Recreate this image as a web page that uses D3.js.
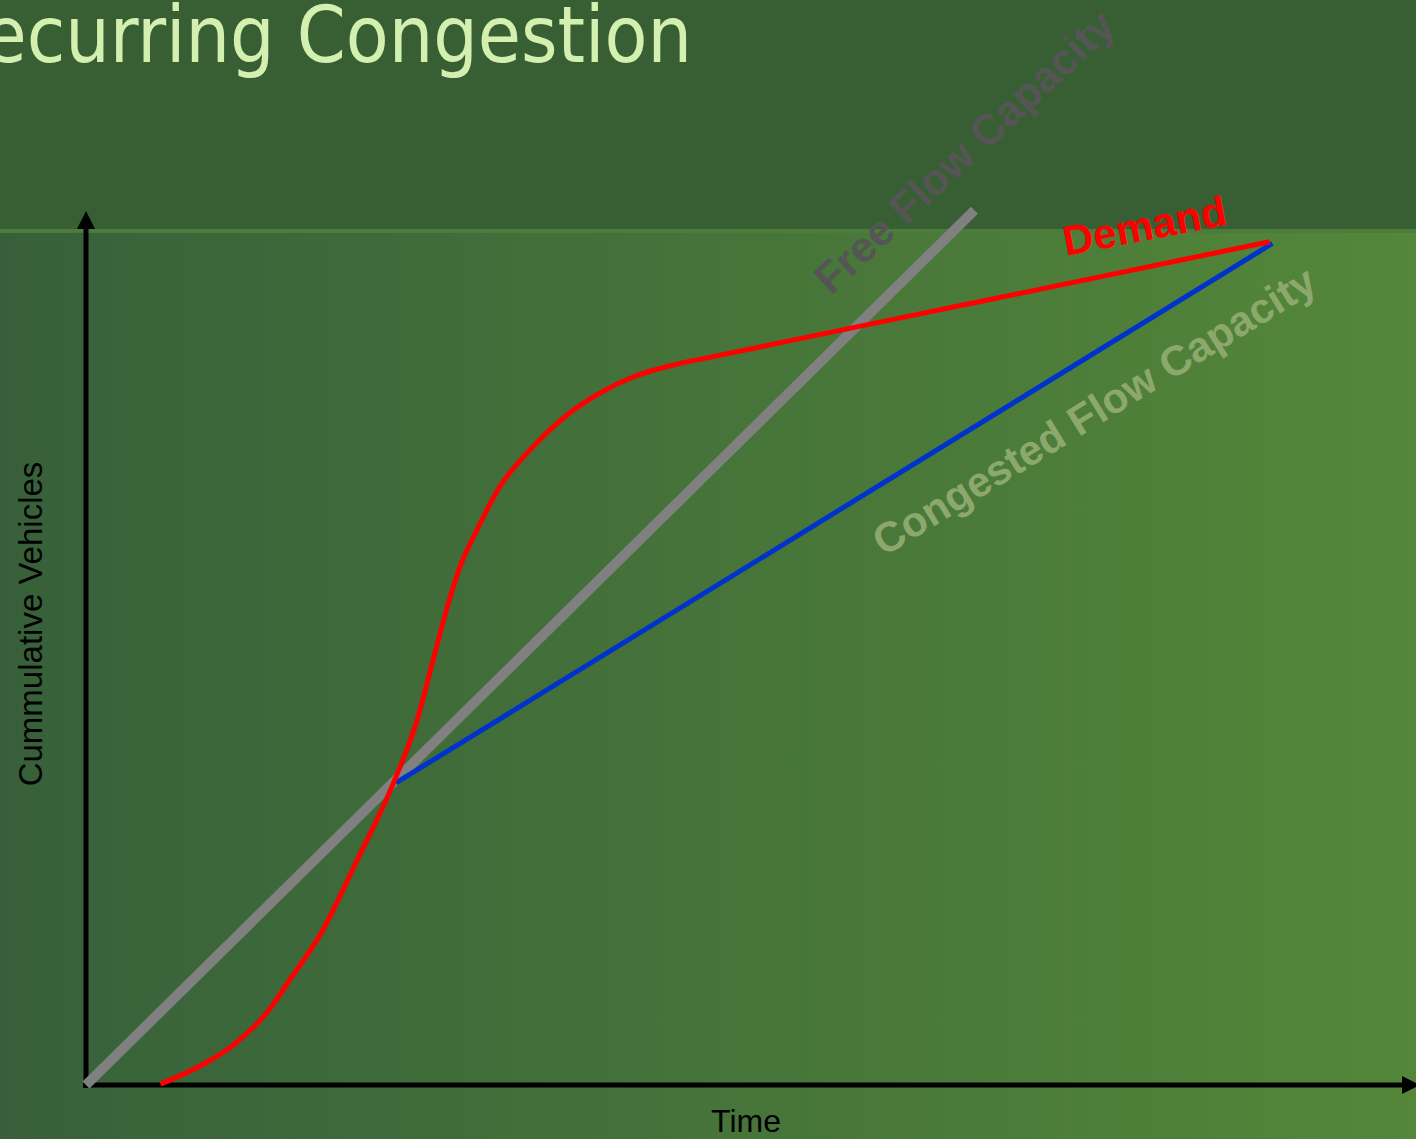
<!DOCTYPE html>
<html>
<head>
<meta charset="utf-8">
<script src="https://d3js.org/d3.v7.min.js"></script>
<style>
  html, body { margin: 0; padding: 0; overflow: hidden; background: #385f33; }
  svg { display: block; }
</style>
</head>
<body>
<svg id="chart" width="1416" height="1139"></svg>
<script>
// ---- data ----
const titleText = "Recurring Congestion";
const xAxisLabel = "Time";
const yAxisLabel = "Cummulative Vehicles";
const timeDomain = [0, 100];
const vehicleDomain = [0, 100];

const freeFlowTime = [0, 66.8];
const freeFlowVehicles = [0, 100.2];

const congestedTime = [23.3, 89.2];
const congestedVehicles = [34.6, 96.4];

const demandTime = [5.6, 8.6, 11.1, 13.6, 15.3, 17.6, 20.4, 23.2, 24.9, 26.1, 27.1, 28.1, 29.4, 31.1, 33.6, 36.17, 38.65, 41.13, 43.7, 47.7, 68.7, 89.0];
const demandVehicles = [0.1, 2.2, 4.6, 8.3, 12.0, 17.2, 25.8, 34.9, 41.8, 48.7, 54.4, 59.3, 63.6, 68.5, 73.1, 76.75, 79.27, 81.1, 82.3, 83.6, 90.2, 96.6];

const seriesLabels = ["Free Flow Capacity", "Congested Flow Capacity", "Demand"];

// ---- drawing ----
const W = 1416, H = 1139;
const svg = d3.select("#chart");
const defs = svg.append("defs");

const grad = defs.append("linearGradient").attr("id", "bg").attr("x1", "0").attr("x2", "1").attr("y1", "0").attr("y2", "0");
grad.append("stop").attr("offset", "0%").attr("stop-color", "#37603a");
grad.append("stop").attr("offset", "100%").attr("stop-color", "#548739");

// background
svg.append("rect").attr("x", 0).attr("y", 0).attr("width", W).attr("height", H).attr("fill", "#385f33");
svg.append("rect").attr("x", 0).attr("y", 231).attr("width", W).attr("height", H - 231).attr("fill", "url(#bg)");
svg.append("rect").attr("x", 0).attr("y", 229).attr("width", W).attr("height", 4).attr("fill", "#4c7c3c");

// title
svg.append("text")
  .attr("x", 692).attr("y", 62)
  .attr("text-anchor", "end")
  .attr("font-family", "'DejaVu Sans Condensed', 'DejaVu Sans', sans-serif")
  .attr("font-size", 78)
  .attr("fill", "#d4f0b0")
  .text(titleText);

const x = d3.scaleLinear().domain(timeDomain).range([86, 1416]);
const y = d3.scaleLinear().domain(vehicleDomain).range([1085, 212]);

// arrow markers
defs.append("marker").attr("id", "arrow")
  .attr("viewBox", "0 0 10 10").attr("refX", 0).attr("refY", 5)
  .attr("markerWidth", 18).attr("markerHeight", 18)
  .attr("markerUnits", "userSpaceOnUse")
  .attr("orient", "auto")
  .append("path").attr("d", "M0,0 L10,5 L0,10 Z").attr("fill", "#000");

// axes
svg.append("line")
  .attr("x1", x(0)).attr("y1", y(0) + 3)
  .attr("x2", x(0)).attr("y2", y(100) + 17)
  .attr("stroke", "#000").attr("stroke-width", 5)
  .attr("marker-end", "url(#arrow)");
svg.append("line")
  .attr("x1", x(0) - 3).attr("y1", y(0))
  .attr("x2", x(100) - 14).attr("y2", y(0))
  .attr("stroke", "#000").attr("stroke-width", 5)
  .attr("marker-end", "url(#arrow)");

const line = d3.line().x(d => x(d[0])).y(d => y(d[1]));

// free flow capacity
svg.append("path")
  .datum(d3.zip(freeFlowTime, freeFlowVehicles))
  .attr("d", line)
  .attr("fill", "none").attr("stroke", "#808080").attr("stroke-width", 10);

// congested flow capacity
svg.append("path")
  .datum(d3.zip(congestedTime, congestedVehicles))
  .attr("d", line)
  .attr("fill", "none").attr("stroke", "#0033cc").attr("stroke-width", 5);

// demand
svg.append("path")
  .datum(d3.zip(demandTime, demandVehicles))
  .attr("d", d3.line().x(d => x(d[0])).y(d => y(d[1])).curve(d3.curveMonotoneX))
  .attr("fill", "none").attr("stroke", "#ff0000").attr("stroke-width", 5)
  .attr("stroke-linejoin", "round");

// axis labels
svg.append("text")
  .attr("x", 746).attr("y", 1132)
  .attr("text-anchor", "middle")
  .attr("font-family", "'Liberation Sans', Arial, sans-serif")
  .attr("font-size", 32).attr("fill", "#000")
  .text(xAxisLabel);
svg.append("text")
  .attr("transform", "translate(42,624) rotate(-90)")
  .attr("text-anchor", "middle")
  .attr("font-family", "'Liberation Sans', Arial, sans-serif")
  .attr("font-size", 33).attr("fill", "#000")
  .text(yAxisLabel);

// series labels
const lab = (txt, px, py, ang, size, col) => svg.append("text")
  .attr("transform", `translate(${px},${py}) rotate(${ang})`)
  .attr("font-family", "'Liberation Sans', Arial, sans-serif")
  .attr("font-weight", "bold")
  .attr("font-size", size).attr("fill", col)
  .text(txt);

lab(seriesLabels[0], 831, 296, -43, 43, "#555555");
lab(seriesLabels[1], 884, 557, -31.6, 42, "#8ca86c");
lab(seriesLabels[2], 1066, 256, -11, 42, "#ff0000");
</script>
</body>
</html>
